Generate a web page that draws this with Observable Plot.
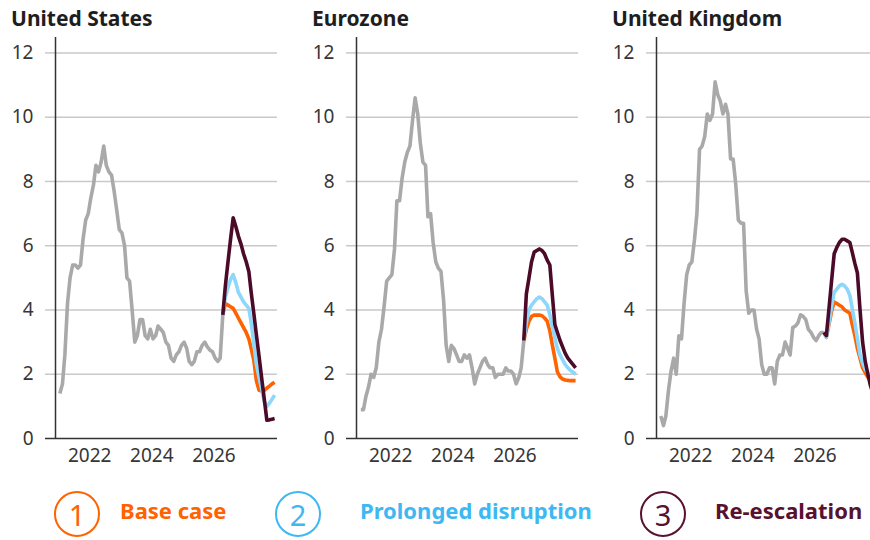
<!DOCTYPE html>
<html>
<head>
<meta charset="utf-8">
<script src="https://cdn.jsdelivr.net/npm/d3@7"></script>
<script src="https://cdn.jsdelivr.net/npm/@observablehq/plot@0.6"></script>
<style>
  html, body { margin: 0; padding: 0; background: #fff; }
  #root { position: relative; width: 870px; height: 540px; overflow: hidden; font-family: "Noto Sans", sans-serif; }
  .panel { position: absolute; top: 0; width: 300px; height: 470px; }
  .title { position: absolute; top: 8px; font-size: 21px; line-height: 21px; font-weight: 700; color: #1e1e1e; white-space: nowrap; }
  .circle { position: absolute; top: 491px; width: 42px; height: 42px; border: 2.6px solid; border-radius: 50%;
            display: flex; align-items: center; justify-content: center; font-size: 29px; line-height: 29px; }
  .ltext { position: absolute; top: 499px; font-size: 22px; line-height: 22px; font-weight: 700; white-space: nowrap; }
</style>
</head>
<body>
<div id="root"></div>
<script>
// ---------- data ----------
const panelTitles = ["United States", "Eurozone", "United Kingdom"];
const yearTicks = [2022, 2024, 2026];
const yTickValues = [0, 2, 4, 6, 8, 10, 12];
const legendLabels = ["Base case", "Prolonged disruption", "Re-escalation"];
const legendNumbers = ["1", "2", "3"];

// monthly actual inflation (% YoY), Jan 2021 onwards
const usActual = [1.4,1.7,2.6,4.2,5.0,5.4,5.4,5.3,5.4,6.2,6.8,7.0,
  7.5,7.9,8.5,8.3,8.6,9.1,8.5,8.3,8.2,7.7,7.1,6.5,
  6.4,6.0,5.0,4.9,4.0,3.0,3.2,3.7,3.7,3.2,3.1,3.4,
  3.1,3.2,3.5,3.4,3.3,3.0,2.9,2.5,2.4,2.6,2.7,2.9,
  3.0,2.8,2.4,2.3,2.4,2.7,2.7,2.9,3.0,2.85,2.75,2.7,
  2.5,2.4,2.5,3.85];
const euActual = [0.9,0.9,1.3,1.6,2.0,1.9,2.2,3.0,3.4,4.1,4.9,5.0,
  5.1,5.9,7.4,7.4,8.1,8.6,8.9,9.1,9.9,10.6,10.1,9.2,
  8.6,8.5,6.9,7.0,6.1,5.5,5.3,5.2,4.3,2.9,2.4,2.9,
  2.8,2.6,2.4,2.4,2.6,2.5,2.6,2.2,1.7,2.0,2.2,2.4,
  2.5,2.3,2.2,2.2,1.9,2.0,2.0,2.0,2.2,2.1,2.1,2.0,
  1.7,1.9,2.2,3.05];
const ukActual = [0.7,0.4,0.7,1.5,2.1,2.5,2.0,3.2,3.1,4.2,5.1,5.4,
  5.5,6.2,7.0,9.0,9.1,9.4,10.1,9.9,10.1,11.1,10.7,10.5,
  10.1,10.4,10.1,8.7,8.7,7.9,6.8,6.7,6.7,4.6,3.9,4.0,
  4.0,3.4,3.1,2.3,2.0,2.0,2.2,2.2,1.7,2.4,2.6,2.6,
  3.0,2.8,2.6,3.45,3.5,3.6,3.85,3.8,3.7,3.4,3.3,3.15,
  3.05,3.2,3.3,3.3];

// scenario paths, monthly from Apr 2026 (index 63) to Dec 2027
const usBase      = [3.85,4.2,4.15,4.1,4.05,3.9,3.75,3.6,3.45,3.3,3.1,2.8,2.43,1.8,1.5,1.48,1.5,1.57,1.63,1.7,1.75];
const usProlonged = [3.85,4.4,4.7,4.95,5.1,4.85,4.55,4.4,4.25,4.15,4.05,3.6,2.95,2.3,1.9,1.55,1.15,1.0,1.1,1.22,1.35];
const usReesc     = [3.85,4.75,5.5,6.2,6.87,6.6,6.3,6.05,5.75,5.5,5.2,4.54,3.88,3.22,2.56,1.9,1.24,0.57,0.58,0.6,0.62];

const euBase      = [3.05,3.4,3.65,3.8,3.84,3.84,3.84,3.82,3.75,3.65,3.35,2.93,2.5,2.07,1.92,1.85,1.82,1.81,1.8,1.8,1.8];
const euProlonged = [3.05,3.6,4.0,4.15,4.25,4.35,4.4,4.35,4.25,4.15,3.85,3.5,3.15,2.8,2.6,2.45,2.3,2.2,2.12,2.06,2.0];
const euReesc     = [3.05,4.5,5.0,5.5,5.8,5.85,5.9,5.85,5.75,5.55,5.4,4.5,3.55,3.3,3.05,2.85,2.65,2.5,2.4,2.3,2.2];

const ukBase      = [3.3,3.15,3.55,3.95,4.25,4.2,4.15,4.1,4.0,3.95,3.9,3.55,3.2,2.8,2.5,2.2,2.05,1.9,1.85,1.8,1.8];
const ukProlonged = [3.3,3.15,3.6,4.1,4.55,4.65,4.75,4.8,4.75,4.65,4.45,4.05,3.6,3.1,2.6,2.35,2.15,2.05,1.95,1.9,1.85];
const ukReesc     = [3.3,3.2,4.05,4.9,5.75,5.95,6.1,6.2,6.2,6.15,6.1,5.8,5.45,5.15,4.0,3.0,2.4,2.0,1.65,1.4,1.3];

const forecastStartIndex = 63;

// ---------- styling ----------
const colGray = "#a9a9a9";
const colBase = "#ff6200";
const colProl = "#8dd7fb";
const colReesc = "#4c0a29";
const legendColors = ["#ff6200", "#3db8f3", "#58122f"];
const axisDark = "#333333";
const gridGray = "#c9c9c9";
const textCol = "#363636";

const monthDate = i => new Date(Date.UTC(2021, i, 15));
const xDomain = [new Date(Date.UTC(2020, 10, 25)), new Date(Date.UTC(2028, 0, 18))];
const yTop = 12.48;

function makePanel(actual, base, prol, reesc) {
  const act = actual.map((v, i) => ({date: monthDate(i), v}));
  const fc = arr => arr.map((v, i) => ({date: monthDate(forecastStartIndex + i), v}));
  const lineOpts = (stroke) => ({x: "date", y: "v", stroke, strokeWidth: 3.6, strokeLinejoin: "round", strokeLinecap: "butt"});
  return Plot.plot({
    width: 300, height: 470,
    marginLeft: 55, marginRight: 23, marginTop: 37, marginBottom: 32,
    style: {fontFamily: "Noto Sans", fontSize: "19px", background: "transparent", overflow: "visible"},
    x: {type: "utc", domain: xDomain},
    y: {domain: [0, yTop]},
    marks: [
      Plot.axisY({ticks: yTickValues.filter(d => d > 0), tickSize: 10, tickPadding: 12, stroke: gridGray, strokeWidth: 1.5, fill: textCol, label: null}),
      Plot.axisY({ticks: [0], tickSize: 10, tickPadding: 12, stroke: axisDark, strokeWidth: 1.5, fill: textCol, label: null}),
      Plot.gridY({ticks: yTickValues.filter(d => d > 0), stroke: gridGray, strokeOpacity: 1, strokeWidth: 1.5}),
      Plot.axisX({ticks: yearTicks.map(y => new Date(Date.UTC(y, 0, 1))), tickFormat: d => String(d.getUTCFullYear()),
                  tickSize: 0, tickPadding: 10, fill: textCol, label: null}),
      Plot.ruleY([0], {stroke: axisDark, strokeWidth: 1.5}),
      Plot.ruleX([xDomain[0]], {y1: 0, y2: yTop, stroke: axisDark, strokeWidth: 1.5}),
      Plot.line(act, lineOpts(colGray)),
      Plot.line(fc(base), lineOpts(colBase)),
      Plot.line(fc(prol), lineOpts(colProl)),
      Plot.line(fc(reesc), lineOpts(colReesc))
    ]
  });
}

const root = document.getElementById("root");
const panelLefts = [0, 301, 601];
const panelData = [
  [usActual, usBase, usProlonged, usReesc],
  [euActual, euBase, euProlonged, euReesc],
  [ukActual, ukBase, ukProlonged, ukReesc]
];
panelData.forEach((d, k) => {
  const div = document.createElement("div");
  div.className = "panel";
  div.style.left = panelLefts[k] + "px";
  div.appendChild(makePanel(...d));
  root.appendChild(div);
  const t = document.createElement("div");
  t.className = "title";
  t.style.left = (panelLefts[k] + 11) + "px";
  t.textContent = panelTitles[k];
  root.appendChild(t);
});

// legend
const circleLefts = [54, 275, 640];
const textLefts = [120, 360, 715];
legendLabels.forEach((lab, k) => {
  const c = document.createElement("div");
  c.className = "circle";
  c.style.left = circleLefts[k] + "px";
  c.style.borderColor = legendColors[k];
  c.style.color = legendColors[k];
  c.textContent = legendNumbers[k];
  root.appendChild(c);
  const t = document.createElement("div");
  t.className = "ltext";
  t.style.left = textLefts[k] + "px";
  t.style.color = legendColors[k];
  t.textContent = lab;
  root.appendChild(t);
});
</script>
</body>
</html>
